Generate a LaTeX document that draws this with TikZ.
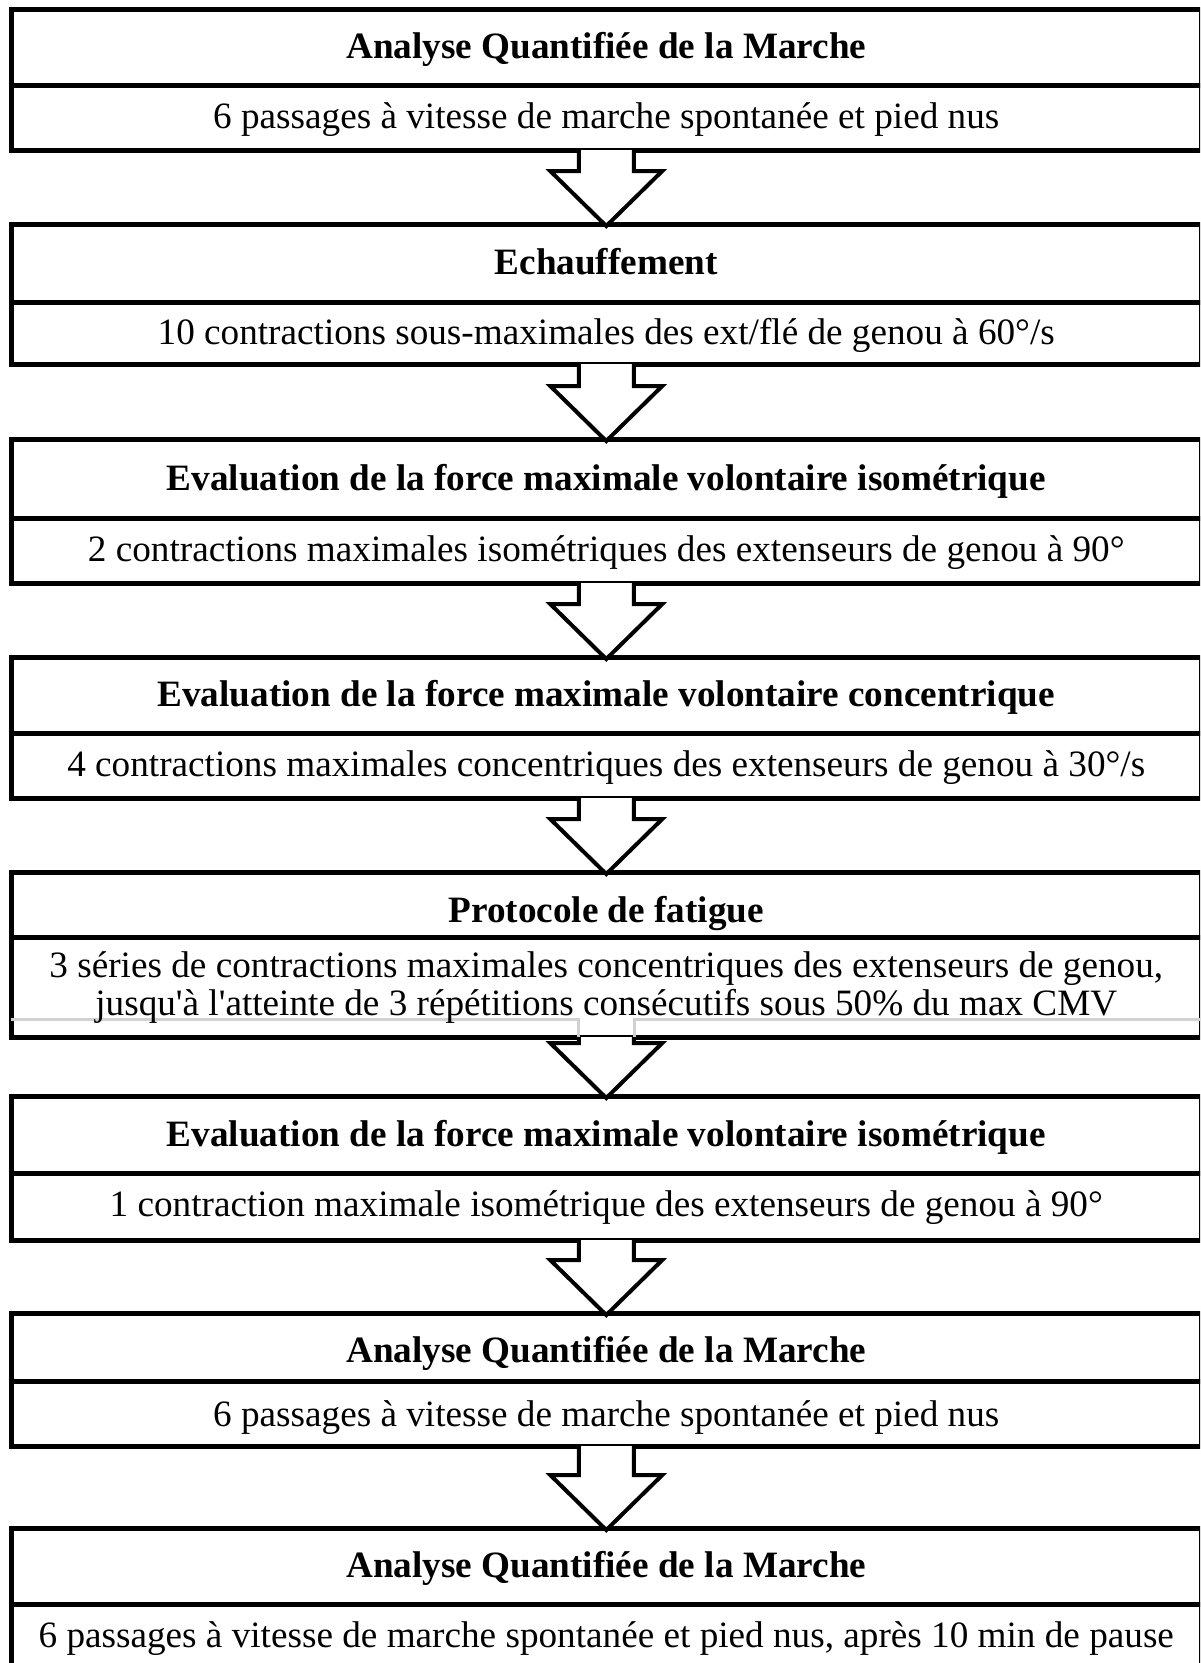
\documentclass[tikz,border=0pt]{standalone}
\usepackage{fontspec}
\setmainfont{Liberation Serif}[Ligatures=TeXOff]
\usetikzlibrary{calc}
\tikzset{
  cellbox/.style={draw=black, line width=5pt, fill=none, inner sep=0pt, outer sep=0pt, minimum width=1190.5pt},
  hdr/.style={font=\fontsize{37.2}{44}\selectfont\bfseries, anchor=base, inner sep=0pt},
  bodytxt/.style={font=\fontsize{37.2}{44}\selectfont, anchor=base, inner sep=0pt},
  blockarrow/.style={draw=black, line width=4pt, fill=white, line join=miter},
  ghostline/.style={draw=black!18, line width=3pt}
}
\newcommand\blkarrow[2]{%
  \draw[blockarrow] ($(#1.south)+(-27.5,0)$) -- ($(#2.north)+(-27.5,-53)$) -- ($(#2.north)+(-56,-53)$)
    -- ($(#2.north)+(0,2)$) -- ($(#2.north)+(56,-53)$) -- ($(#2.north)+(27.5,-53)$) -- ($(#1.south)+(27.5,0)$);}
\begin{document}
\begin{tikzpicture}[x=1pt,y=-1pt]
\useasboundingbox (0,0) rectangle (1200,1663);
\clip (0,0) rectangle (1200,1663);
\fill[white] (0,0) rectangle (1200,1663);

% box 1
\node[cellbox, minimum height=76pt] (h1) at (606.25,47) {};
\node[cellbox, minimum height=65pt] (b1) at (606.25,117.5) {};
\node[hdr] (t1) at (606.25,58) {Analyse Quantifiée de la Marche};
\node[bodytxt] (s1) at (606.25,128.5) {6 passages à vitesse de marche spontanée et pied nus};

% box 2
\node[cellbox, minimum height=78pt] (h2) at (606.25,263) {};
\node[cellbox, minimum height=62pt] (b2) at (606.25,333) {};
\node[hdr] (t2) at (606.25,274.5) {Echauffement};
\node[bodytxt] (s2) at (606.25,344.5) {10 contractions sous-maximales des ext/flé de genou à 60°/s};

% box 3
\node[cellbox, minimum height=79pt] (h3) at (606.25,478.5) {};
\node[cellbox, minimum height=65pt] (b3) at (606.25,550.5) {};
\node[hdr] (t3) at (606.25,490) {Evaluation de la force maximale volontaire isométrique};
\node[bodytxt] (s3) at (606.25,561.5) {2 contractions maximales isométriques des extenseurs de genou à 90°};

% box 4
\node[cellbox, minimum height=76pt] (h4) at (606.25,695) {};
\node[cellbox, minimum height=65pt] (b4) at (606.25,765.5) {};
\node[hdr] (t4) at (606.25,706.5) {Evaluation de la force maximale volontaire concentrique};
\node[bodytxt] (s4) at (606.25,776.5) {4 contractions maximales concentriques des extenseurs de genou à 30°/s};

% box 5
\node[cellbox, minimum height=65pt] (h5) at (606.25,904.5) {};
\node[cellbox, minimum height=100pt] (b5) at (606.25,987) {};
\draw[ghostline] (b5.west |- 0,1019) -- (578.5,1019) -- (578.5,1037);
\draw[ghostline] (634,1037) -- (634,1019) -- (b5.east |- 0,1019);
\node[hdr] (t5) at (606.25,922) {Protocole de fatigue};
\node[bodytxt] (s5a) at (606.25,977) {3 séries de contractions maximales concentriques des extenseurs de genou,};
\node[bodytxt] (s5b) at (606.25,1015) {jusqu'à l'atteinte de 3 répétitions consécutifs sous 50\% du max CMV};

% box 6
\node[cellbox, minimum height=77pt] (h6) at (606.25,1134.5) {};
\node[cellbox, minimum height=67pt] (b6) at (606.25,1206.5) {};
\node[hdr] (t6) at (606.25,1146) {Evaluation de la force maximale volontaire isométrique};
\node[bodytxt] (s6) at (606.25,1216.5) {1 contraction maximale isométrique des extenseurs de genou à 90°};

% box 7
\node[cellbox, minimum height=68pt] (h7) at (606.25,1347) {};
\node[cellbox, minimum height=65pt] (b7) at (606.25,1413.5) {};
\node[hdr] (t7) at (606.25,1362) {Analyse Quantifiée de la Marche};
\node[bodytxt] (s7) at (606.25,1426) {6 passages à vitesse de marche spontanée et pied nus};

% box 8
\node[cellbox, minimum height=76pt] (h8) at (606.25,1566) {};
\node[cellbox, minimum height=86pt] (b8) at (606.25,1647) {};
\node[hdr] (t8) at (606.25,1577.5) {Analyse Quantifiée de la Marche};
\node[bodytxt] (s8) at (606.25,1647) {6 passages à vitesse de marche spontanée et pied nus, après 10 min de pause};

% arrows
\blkarrow{b1}{h2}
\blkarrow{b2}{h3}
\blkarrow{b3}{h4}
\blkarrow{b4}{h5}
\blkarrow{b5}{h6}
\blkarrow{b6}{h7}
\blkarrow{b7}{h8}
\end{tikzpicture}
\end{document}
